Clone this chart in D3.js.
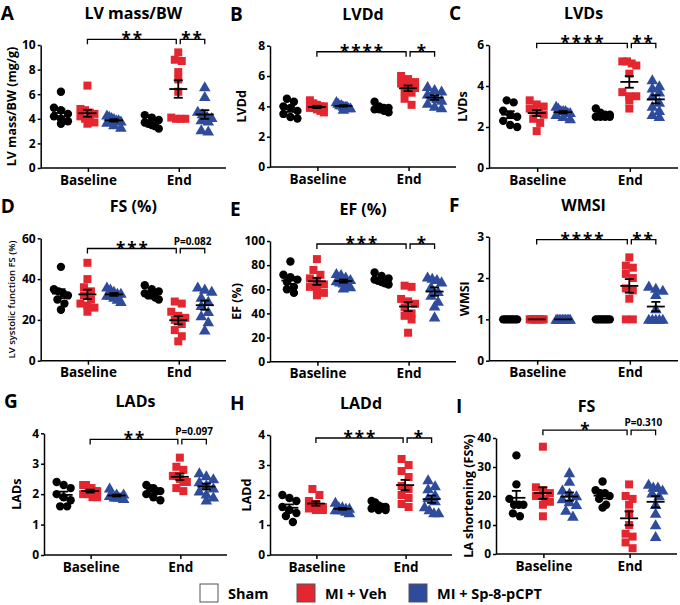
<!DOCTYPE html>
<html>
<head>
<meta charset="utf-8">
<script src="https://cdn.jsdelivr.net/npm/d3@7"></script>
<style>
  body { margin: 0; background: #fff; }
  svg { font-family: "Open Sans", sans-serif; font-weight: bold; }
</style>
</head>
<body>
<svg id="chart" width="680" height="605"></svg>
<script>
const timepoints = ["Baseline", "End"];
const groups = ["Sham", "MI + Veh", "MI + Sp-8-pCPT"];
const colors = ["#ffffff", "#e3262f", "#2e4b9c"];

// each panel: [Sham base, Veh base, Sp8 base, Sham end, Veh end, Sp8 end]
const lvMassBW = [
  [6.2, 4.9, 4.7, 4.4, 4.2, 4.0, 3.8, 3.6],
  [6.7, 4.8, 4.7, 4.5, 4.4, 4.2, 4.0, 3.9, 3.7, 3.6],
  [4.3, 4.2, 4.1, 4.0, 3.9, 3.9, 3.8, 3.7, 3.5, 3.3],
  [4.3, 4.1, 3.9, 3.7, 3.6, 3.5, 3.4, 3.2],
  [9.4, 8.8, 8.7, 7.8, 7.2, 6.2, 4.1, 4.0, 4.0, 4.0],
  [6.6, 5.8, 4.6, 4.4, 4.2, 4.1, 3.9, 3.8, 3.1, 3.0]
];
const lvdd = [
  [4.5, 4.3, 4.0, 3.9, 3.7, 3.5, 3.3, 3.2],
  [4.4, 4.2, 4.1, 4.0, 4.0, 3.9, 3.9, 3.8, 3.7, 3.6],
  [4.3, 4.2, 4.1, 4.1, 4.0, 4.0, 4.0, 3.9, 3.9, 3.8],
  [4.3, 4.0, 3.9, 3.9, 3.8, 3.8, 3.7, 3.6],
  [6.0, 5.8, 5.6, 5.5, 5.3, 5.2, 5.0, 4.9, 4.5, 4.1],
  [5.3, 5.1, 5.0, 4.8, 4.6, 4.5, 4.4, 4.2, 4.0, 3.9]
];
const lvds = [
  [3.3, 3.2, 2.8, 2.6, 2.5, 2.3, 2.1, 2.0],
  [3.3, 3.1, 3.0, 2.9, 2.8, 2.7, 2.6, 2.4, 2.2, 1.8],
  [3.0, 2.9, 2.8, 2.8, 2.8, 2.7, 2.7, 2.6, 2.5, 2.4],
  [2.9, 2.7, 2.6, 2.6, 2.5, 2.5, 2.5, 2.5],
  [5.2, 5.2, 5.1, 5.0, 4.6, 3.7, 3.5, 3.5, 3.3, 2.9],
  [4.3, 4.0, 3.9, 3.7, 3.5, 3.2, 3.0, 2.8, 2.6, 2.5]
];
const fsLV = [
  [46, 35, 34, 33, 32, 30, 28, 25],
  [48, 40, 36, 34, 32, 30, 28, 27, 26, 24],
  [36, 35, 34, 33, 33, 32, 32, 31, 30, 29],
  [37, 35, 34, 33, 32, 32, 31, 30],
  [29, 28, 24, 22, 21, 20, 18, 15, 12, 9.5],
  [36, 35, 34, 31, 29, 27, 24, 22, 19, 15]
];
const ef = [
  [83, 72, 70, 68, 66, 62, 60, 57],
  [85, 76, 72, 69, 66, 64, 62, 60, 57, 55],
  [73, 72, 70, 68, 67, 66, 65, 64, 62, 61],
  [74, 71, 69, 68, 67, 66, 65, 64],
  [63, 62, 52, 50, 48, 45, 40, 38, 35, 24],
  [70, 69, 68, 66, 62, 58, 55, 50, 46, 37]
];
const wmsi = [
  [1, 1, 1, 1, 1, 1, 1, 1],
  [1, 1, 1, 1, 1, 1, 1, 1, 1, 1],
  [1, 1, 1, 1, 1, 1, 1, 1, 1, 1],
  [1, 1, 1, 1, 1, 1, 1, 1],
  [2.5, 2.3, 2.25, 2.1, 2.0, 1.75, 1.7, 1.5, 1.0, 1.0],
  [1.8, 1.75, 1.7, 1.6, 1.25, 1.0, 1.0, 1.0, 1.0, 1.0]
];
const lads = [
  [2.4, 2.3, 2.2, 2.0, 1.9, 1.8, 1.6, 1.6],
  [2.3, 2.3, 2.2, 2.2, 2.1, 2.1, 2.0, 2.0, 1.9, 1.9],
  [2.2, 2.0, 2.0, 1.95, 1.95, 1.9, 1.9, 1.9, 1.9, 1.85],
  [2.3, 2.2, 2.2, 2.1, 2.1, 2.0, 1.9, 1.8],
  [3.2, 2.9, 2.8, 2.6, 2.6, 2.5, 2.4, 2.4, 2.2, 2.1],
  [2.7, 2.6, 2.5, 2.4, 2.3, 2.2, 2.1, 2.0, 1.9, 1.8]
];
const ladd = [
  [2.0, 1.9, 1.8, 1.6, 1.5, 1.4, 1.3, 1.1],
  [2.2, 2.0, 1.8, 1.7, 1.7, 1.6, 1.6, 1.55, 1.5, 1.5],
  [1.75, 1.6, 1.6, 1.55, 1.55, 1.5, 1.5, 1.5, 1.45, 1.4],
  [1.8, 1.75, 1.65, 1.6, 1.6, 1.55, 1.5, 1.5],
  [3.2, 3.0, 2.8, 2.6, 2.3, 2.2, 2.0, 1.9, 1.7, 1.6],
  [2.5, 2.3, 2.2, 2.0, 1.9, 1.8, 1.6, 1.5, 1.4, 1.4]
];
const laFS = [
  [34, 24, 19, 17, 17, 17, 14, 13],
  [37, 23, 22, 21, 20, 20, 19, 18, 17, 13],
  [28, 25, 22, 21, 20, 19, 18, 17, 15, 13],
  [25, 22, 21, 21, 20, 19, 17, 16],
  [24, 20, 19, 17, 14, 10, 7, 6, 4, 2],
  [24, 23, 23, 22, 21, 20, 17, 14, 10, 6]
];

const ticksA = [0, 2, 4, 6, 8, 10];
const ticksB = [0, 2, 4, 6, 8];
const ticksC = [0, 2, 4, 6];
const ticksD = [0, 20, 40, 60];
const ticksE = [0, 20, 40, 60, 80, 100];
const ticksF = [0, 1, 2, 3];
const ticksG = [0, 1, 2, 3, 4];
const ticksI = [0, 10, 20, 30, 40];

const panels = [
  { letter: "A", title: "LV mass/BW", ylabel: "LV mass/BW (mg/g)", data: lvMassBW, ticks: ticksA,
    stars: ["**", "**"], bracket: 10.46, left: 40.7, right: 226, top: 45, bottom: 168, labelX: 12 },
  { letter: "B", title: "LVDd", ylabel: "LVDd", data: lvdd, ticks: ticksB,
    stars: ["****", "*"], bracket: 7.6, left: 270, right: 456, top: 45.7, bottom: 167, labelX: 242 },
  { letter: "C", title: "LVDs", ylabel: "LVDs", data: lvds, ticks: ticksC,
    stars: ["****", "**"], bracket: 6.08, left: 489, right: 678, top: 45, bottom: 168, labelX: 463 },
  { letter: "D", title: "FS (%)", ylabel: "LV systolic function FS (%)", data: fsLV, ticks: ticksD,
    stars: ["***", "P=0.082"], bracket: 55, left: 40.7, right: 226, top: 238.3, bottom: 360.7, labelX: 12, small: true },
  { letter: "E", title: "EF (%)", ylabel: "EF (%)", data: ef, ticks: ticksE,
    stars: ["***", "*"], bracket: 97.5, left: 270, right: 456, top: 241, bottom: 361.7, labelX: 237 },
  { letter: "F", title: "WMSI", ylabel: "WMSI", data: wmsi, ticks: ticksF,
    stars: ["****", "**"], bracket: 2.93, left: 489, right: 678, top: 236.7, bottom: 360.7, labelX: 465 },
  { letter: "G", title: "LADs", ylabel: "LADs", data: lads, ticks: ticksG,
    stars: ["**", "P=0.097"], bracket: 3.8, left: 44, right: 227, top: 433.3, bottom: 555, labelX: 17 },
  { letter: "H", title: "LADd", ylabel: "LADd", data: ladd, ticks: ticksG,
    stars: ["***", "*"], bracket: 3.9, left: 270, right: 452, top: 435, bottom: 555, labelX: 247 },
  { letter: "I", title: "FS", ylabel: "LA shortening (FS%)", data: laFS, ticks: ticksI,
    stars: ["*", "P=0.310"], bracket: 42.7, left: 496, right: 677, top: 438, bottom: 554, labelX: 469, pad: 0.55 }
];

const svg = d3.select("#chart");

// spread points of similar value sideways, GraphPad style
function swarm(vals, y, gap, maxHalf) {
  const sorted = vals.slice().sort((a, b) => b - a);
  const rows = [];
  sorted.forEach(v => {
    const py = y(v);
    const row = rows[rows.length - 1];
    if (row && Math.abs(py - row.y0) < gap) row.items.push(v);
    else rows.push({ y0: py, items: [v] });
  });
  const out = [];
  rows.forEach(r => {
    const k = r.items.length;
    const step = k > 1 ? Math.min(gap, (2 * maxHalf) / (k - 1)) : 0;
    r.items.forEach((v, j) => out.push({ v, dx: (j - (k - 1) / 2) * step }));
  });
  return out;
}

function drawPanel(p) {
  const g = svg.append("g");
  const x = d3.scalePoint().domain(timepoints).range([p.left, p.right]).padding(p.pad || 0.52);
  const xg = d3.scalePoint().domain(groups).range([-27, 26]);
  const y = d3.scaleLinear().domain([0, d3.max(p.ticks)]).range([p.bottom, p.top]);

  const ya = g.append("g")
    .attr("transform", `translate(${p.left},0)`)
    .call(d3.axisLeft(y).tickValues(p.ticks).tickFormat(d3.format("d"))
      .tickSize(3).tickPadding(2).tickSizeOuter(0));
  const xa = g.append("g")
    .attr("transform", `translate(0,${p.bottom})`)
    .call(d3.axisBottom(x).tickSize(4).tickPadding(3).tickSizeOuter(0));
  xa.select(".domain").attr("d", `M${p.left},0H${p.right}`);
  [ya, xa].forEach(a => {
    a.selectAll("path, line").attr("stroke", "#000").attr("stroke-width", 1.5);
    a.selectAll("text").attr("fill", "#000").style("font-family", "Open Sans").style("font-weight", "bold");
  });
  ya.selectAll("text").style("font-size", "12px");
  xa.selectAll("text").style("font-size", "13.5px");

  // panel letter, title, y label
  g.append("text").attr("y", p.top - 25)
    .attr("x", p.labelX - 10 < 0 ? 3 : p.left - 40)
    .style("font-size", "19px").text(p.letter);
  g.append("text").attr("x", (p.left + p.right) / 2).attr("y", p.top - 26)
    .attr("text-anchor", "middle").style("font-size", "16px").text(p.title);
  g.append("text")
    .attr("transform", `translate(${p.labelX},${(p.top + p.bottom) / 2}) rotate(-90)`)
    .attr("text-anchor", "middle").attr("dy", "0.35em")
    .attr("fill", "#000")
    .style("font-size", p.small ? "9.5px" : "12.5px")
    .style("font-weight", p.small ? "600" : "bold")
    .text(p.ylabel);

  // points, mean and SEM
  p.data.forEach((vals, i) => {
    const t = timepoints[Math.floor(i / 3)];
    const grp = groups[i % 3];
    const cx = x(t) + xg(grp);
    const pts = swarm(vals, y, 7, 7);
    const sym = i % 3 === 0 ? d3.symbolCircle : i % 3 === 1 ? d3.symbolSquare : d3.symbolTriangle;
    const size = i % 3 === 0 ? 55 : i % 3 === 1 ? 64 : 58;
    const fill = i % 3 === 0 ? "#000" : colors[i % 3];
    g.append("g").selectAll("path").data(pts).join("path")
      .attr("d", d3.symbol(sym, size))
      .attr("transform", d => `translate(${cx + d.dx},${y(d.v) + (i % 3 === 2 ? 1 : 0)})`)
      .attr("fill", fill);

    const m = d3.mean(vals);
    const sem = d3.deviation(vals) / Math.sqrt(vals.length) || 0;
    const eg = g.append("g").attr("stroke", "#000").attr("stroke-width", 1.8).attr("fill", "none");
    eg.append("line").attr("x1", cx - 9).attr("x2", cx + 9).attr("y1", y(m)).attr("y2", y(m));
    if (sem > 0) {
      eg.append("line").attr("x1", cx).attr("x2", cx).attr("y1", y(m - sem)).attr("y2", y(m + sem));
      [m - sem, m + sem].forEach(v => eg.append("line")
        .attr("x1", cx - 4.5).attr("x2", cx + 4.5).attr("y1", y(v)).attr("y2", y(v)));
    }
  });

  // significance brackets
  const by = y(p.bracket);
  const xb = x("Baseline") + xg("MI + Veh");
  const xe = x("End") + xg("MI + Veh");
  const xs = x("End") + xg("MI + Sp-8-pCPT");
  const bg = g.append("g").attr("stroke", "#000").attr("stroke-width", 1.3).attr("fill", "none");
  bg.append("path").attr("d", `M${xb},${by + 5}V${by}H${xe - 2}V${by + 5}`);
  bg.append("path").attr("d", `M${xe + 2},${by + 5}V${by}H${xs}V${by + 5}`);
  [[(xb + xe) / 2, p.stars[0]], [(xe + 2 + xs) / 2, p.stars[1]]].forEach(([sx, s]) => {
    const isP = s.startsWith("P");
    g.append("text").attr("x", sx).attr("y", isP ? by - 4 : by + 6)
      .attr("text-anchor", "middle")
      .style("font-size", isP ? "10px" : "17px")
      .style("letter-spacing", isP ? "0px" : "2px")
      .text(s);
  });
}

panels.forEach(drawPanel);

// legend
const legend = svg.append("g").attr("transform", "translate(200,584)");
const lx = [0, 97, 209];
groups.forEach((gname, i) => {
  legend.append("rect").attr("x", lx[i]).attr("y", 0).attr("width", 18).attr("height", 18)
    .attr("fill", colors[i]).attr("stroke", "#555").attr("stroke-width", 1);
  legend.append("text").attr("x", lx[i] + 28).attr("y", 14.5)
    .style("font-size", "14.5px").text(gname);
});
</script>
</body>
</html>
